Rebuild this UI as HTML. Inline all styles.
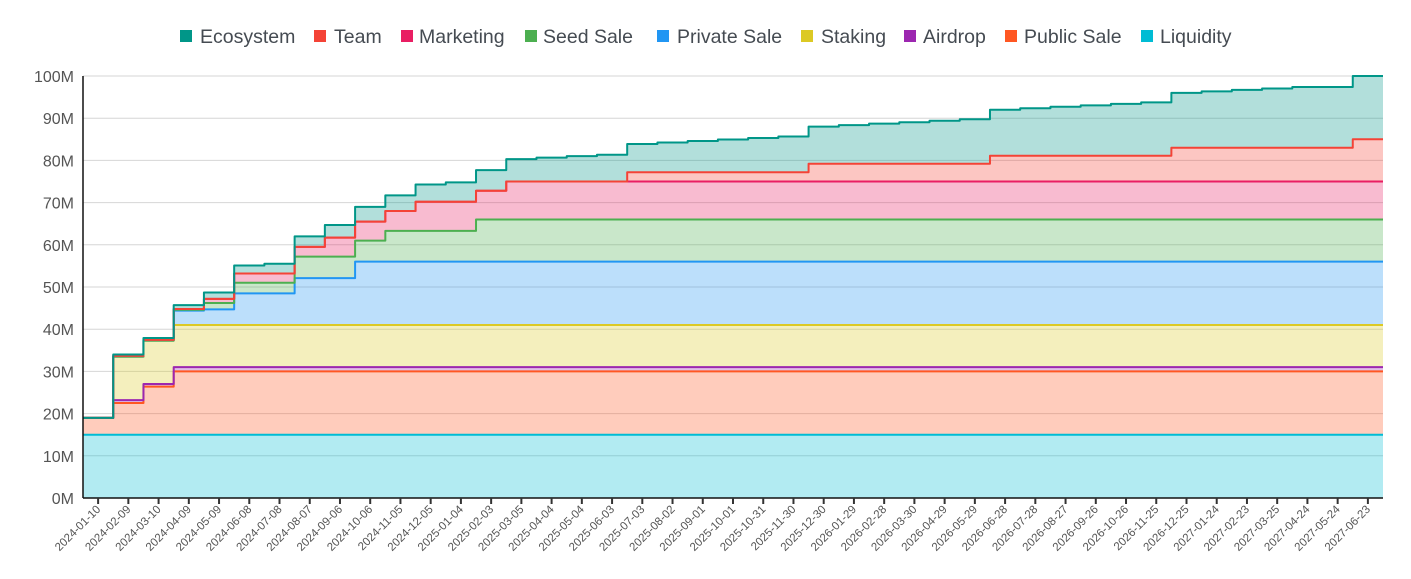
<!DOCTYPE html>
<html><head><meta charset="utf-8"><style>
body{margin:0;background:#fff;width:1411px;height:579px;overflow:hidden;font-family:"Liberation Sans",Arial,sans-serif}
svg{display:block}
</style></head><body>
<svg id="chart" width="1411" height="579"></svg>
<script>
const dates=["2024-01-10","2024-02-09","2024-03-10","2024-04-09","2024-05-09","2024-06-08","2024-07-08","2024-08-07","2024-09-06","2024-10-06","2024-11-05","2024-12-05","2025-01-04","2025-02-03","2025-03-05","2025-04-04","2025-05-04","2025-06-03","2025-07-03","2025-08-02","2025-09-01","2025-10-01","2025-10-31","2025-11-30","2025-12-30","2026-01-29","2026-02-28","2026-03-30","2026-04-29","2026-05-29","2026-06-28","2026-07-28","2026-08-27","2026-09-26","2026-10-26","2026-11-25","2026-12-25","2027-01-24","2027-02-23","2027-03-25","2027-04-24","2027-05-24","2027-06-23"];
const yTicks=[0,10,20,30,40,50,60,70,80,90,100];
const liquidity=[15,15,15,15,15,15,15,15,15,15,15,15,15,15,15,15,15,15,15,15,15,15,15,15,15,15,15,15,15,15,15,15,15,15,15,15,15,15,15,15,15,15,15];
const publicSale=[4,7.5,11.4,15,15,15,15,15,15,15,15,15,15,15,15,15,15,15,15,15,15,15,15,15,15,15,15,15,15,15,15,15,15,15,15,15,15,15,15,15,15,15,15];
const airdrop=[0,0.7,0.6,1,1,1,1,1,1,1,1,1,1,1,1,1,1,1,1,1,1,1,1,1,1,1,1,1,1,1,1,1,1,1,1,1,1,1,1,1,1,1,1];
const staking=[0,10.3,10.3,10,10,10,10,10,10,10,10,10,10,10,10,10,10,10,10,10,10,10,10,10,10,10,10,10,10,10,10,10,10,10,10,10,10,10,10,10,10,10,10];
const privateSale=[0,0,0,3.4,3.7,7.5,7.5,11.1,11.1,15,15,15,15,15,15,15,15,15,15,15,15,15,15,15,15,15,15,15,15,15,15,15,15,15,15,15,15,15,15,15,15,15,15];
const seedSale=[0,0,0,0.2,1.5,2.5,2.5,5.1,5.1,5,7.3,7.3,7.3,10,10,10,10,10,10,10,10,10,10,10,10,10,10,10,10,10,10,10,10,10,10,10,10,10,10,10,10,10,10];
const marketing=[0,0.2,0.2,0.2,1,2.2,2.2,2.3,4.5,4.5,4.7,6.9,6.9,6.8,9,9,9,9,9,9,9,9,9,9,9,9,9,9,9,9,9,9,9,9,9,9,9,9,9,9,9,9,9];
const team=[0,0,0,0,0,0,0,0,0,0,0,0,0,0,0,0,0,0,2.2,2.2,2.2,2.2,2.2,2.2,4.2,4.2,4.2,4.2,4.2,4.2,6.1,6.1,6.1,6.1,6.1,6.1,8,8,8,8,8,8,10];
const ecosystem=[0,0.3,0.4,0.9,1.5,1.9,2.3,2.5,3.0,3.5,3.7,4.1,4.6,4.9,5.3,5.65,6.0,6.35,6.7,7.05,7.4,7.75,8.1,8.45,8.8,9.15,9.5,9.85,10.2,10.55,10.9,11.25,11.6,11.95,12.3,12.65,13.0,13.35,13.7,14.05,14.4,14.4,15];

const series=[
 {name:"Liquidity",key:"liquidity",data:liquidity,color:"#00bcd4"},
 {name:"Public Sale",key:"public-sale",data:publicSale,color:"#ff5722"},
 {name:"Airdrop",key:"airdrop",data:airdrop,color:"#9c27b0"},
 {name:"Staking",key:"staking",data:staking,color:"#dcc924"},
 {name:"Private Sale",key:"private-sale",data:privateSale,color:"#2196f3"},
 {name:"Seed Sale",key:"seed-sale",data:seedSale,color:"#4caf50"},
 {name:"Marketing",key:"marketing",data:marketing,color:"#e91e63"},
 {name:"Team",key:"team",data:team,color:"#f44336"},
 {name:"Ecosystem",key:"ecosystem",data:ecosystem,color:"#009688"}
];
const NS="http://www.w3.org/2000/svg";
const svg=document.getElementById('chart');
const L=83,R=1383,T=76,B=498,yMax=100;
const bw=(R-L)/dates.length;
function xBand(i){return L+bw*i;}
function xC(i){return L+bw*(i+0.5);}
function y(v){return B-(v/yMax)*(B-T);}
function mk(tag,attrs){const e=document.createElementNS(NS,tag);for(const k in attrs)e.setAttribute(k,attrs[k]);svg.appendChild(e);return e;}

// grid
yTicks.forEach(v=>{
 const g=mk('line',{x1:L,x2:R,y1:y(v),y2:y(v),stroke:v===0?'none':'#d6d6d6','stroke-width':1});
 
 
 const t=mk('text',{x:74,y:y(v)+6,'text-anchor':'end','font-size':16,fill:'#555'});
 t.textContent=v+'M';
 
 
});

// stacked
const base=dates.map(()=>0);
series.forEach(s=>{
 const lo=base.slice();
 const hi=lo.map((b,i)=>b+s.data[i]);
 let top='',bot='';
 for(let i=0;i<dates.length;i++){
  top+=(i===0?'M':'L')+xBand(i)+','+y(hi[i])+'L'+xBand(i+1)+','+y(hi[i]);
 }
 for(let i=dates.length-1;i>=0;i--){
  bot+='L'+xBand(i+1)+','+y(lo[i])+'L'+xBand(i)+','+y(lo[i]);
 }
 const a=mk('path',{d:top+bot+'Z',fill:s.color,'fill-opacity':0.3,stroke:'none'});
 
 
 s.top=top;
 for(let i=0;i<dates.length;i++)base[i]=hi[i];
});
series.forEach(s=>{
 const l=mk('path',{d:s.top,fill:'none',stroke:s.color,'stroke-width':2,'stroke-linejoin':'round'});
 
 
});

// axes
const ya=mk('line',{x1:L,x2:L,y1:T,y2:B,stroke:'#111','stroke-width':1.5});


const xa=mk('line',{x1:L,x2:R,y1:B,y2:B,stroke:'#111','stroke-width':1.5});


dates.forEach((d,i)=>{
 const x=xC(i);
 const tk=mk('line',{x1:x,x2:x,y1:B,y2:B+6,stroke:'#333','stroke-width':2});
 
 
 const t=mk('text',{x:x+3,y:B+12,'text-anchor':'end','font-size':11.5,fill:'#555',transform:'rotate(-45 '+(x+3)+' '+(B+12)+')'});
 t.textContent=d;
 
 
});

// legend
const legend=[["Ecosystem","#009688",180,200],["Team","#f44336",314,334],["Marketing","#e91e63",401,419],["Seed Sale","#4caf50",525,543],["Private Sale","#2196f3",657,677],["Staking","#dcc924",801,821],["Airdrop","#9c27b0",904,923],["Public Sale","#ff5722",1005,1024],["Liquidity","#00bcd4",1141,1160]];
legend.forEach(([n,c,sx,tx])=>{
 const g=document.createElementNS(NS,'g');svg.appendChild(g);
 
 
 const r=document.createElementNS(NS,'rect');
 r.setAttribute('x',sx);r.setAttribute('y',30);r.setAttribute('width',12);r.setAttribute('height',12);r.setAttribute('fill',c);
 g.appendChild(r);
 const t=document.createElementNS(NS,'text');
 t.setAttribute('x',tx);t.setAttribute('y',43);t.setAttribute('font-size',19.5);t.setAttribute('fill','#454b52');
 t.textContent=n;g.appendChild(t);
});
</script>
</body></html>
